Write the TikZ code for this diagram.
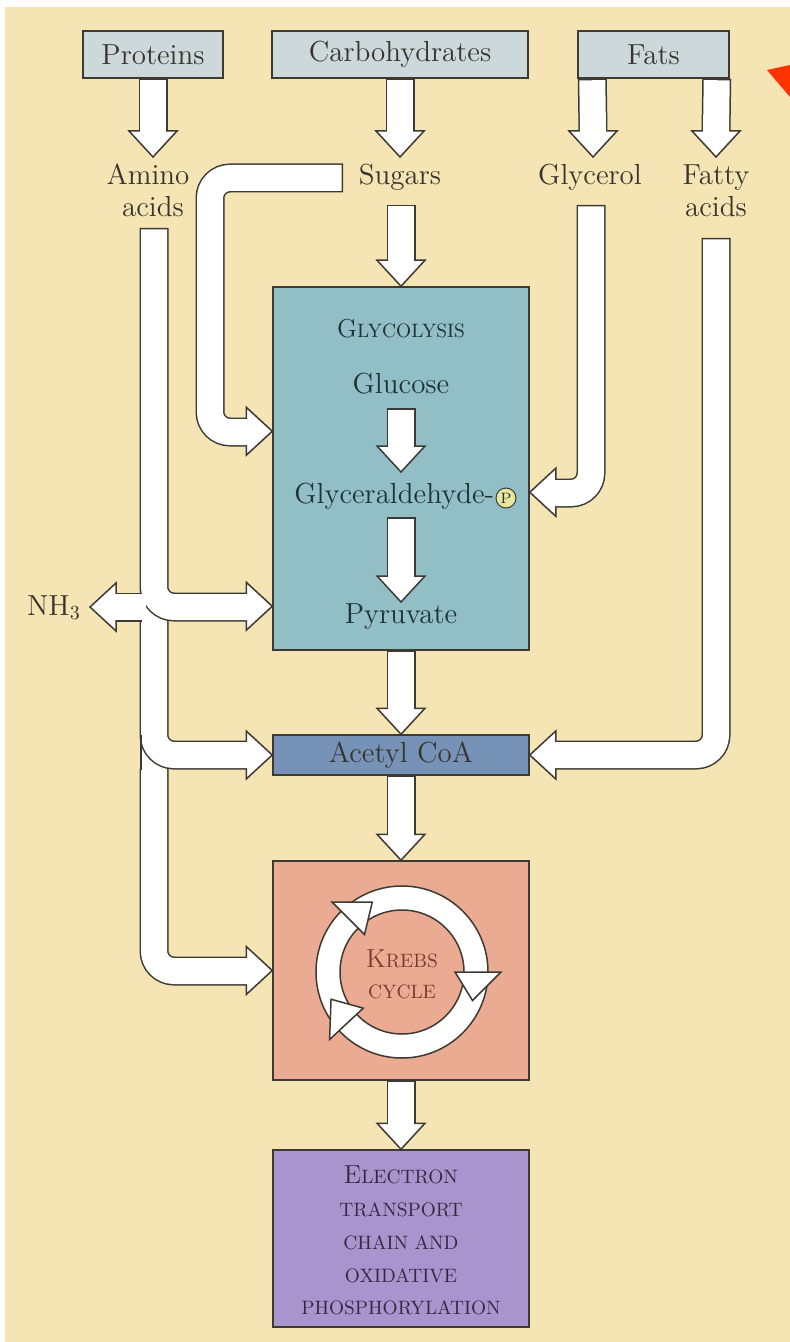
\documentclass[tikz,border=0pt]{standalone}
\usetikzlibrary{calc}
\definecolor{bg}{RGB}{245,228,180}
\definecolor{linec}{RGB}{60,58,50}
\definecolor{srcfill}{RGB}{205,216,218}
\definecolor{glyfill}{RGB}{146,190,198}
\definecolor{acefill}{RGB}{118,146,182}
\definecolor{krefill}{RGB}{235,170,146}
\definecolor{etcfill}{RGB}{170,148,206}
\definecolor{pfill}{RGB}{234,230,160}
\definecolor{txt}{RGB}{55,52,45}
\definecolor{glytxt}{RGB}{30,50,55}
\definecolor{kretxt}{RGB}{120,60,50}
\definecolor{etctxt}{RGB}{55,40,65}
\definecolor{redmark}{RGB}{255,50,0}
\tikzset{
  box/.style={draw=linec, line width=0.75pt, inner sep=0pt},
  lab/.style={font=\fontsize{14.5}{16.5}\selectfont, text=txt, align=center, inner sep=0pt},
  bl/.style={anchor=base, inner sep=0pt},
  sback/.style={draw=linec, line width=14.5pt, rounded corners=10pt},
  sfront/.style={draw=white, line width=13pt, rounded corners=10pt},
  headS/.style={fill=white, draw=linec, line width=0.75pt, line join=miter},
  edge/.style={draw=linec, line width=0.75pt},
  ahead/.pic={\filldraw[headS] (-26,-24) -- (0,0) -- (-26,24) -- cycle;},
}
\newcommand{\fatarrow}[3]{%
  \draw[sback] #1;
  \pic[rotate=#3] at #2 {ahead};
  \draw[sfront, shorten <=0.75pt, shorten >=-1pt] #1;
}
\newcommand{\fatarrowopen}[3]{%
  \draw[sback] #1;
  \pic[rotate=#3] at #2 {ahead};
  \draw[sfront, shorten >=-1pt] #1;
}
\newcommand{\bigsc}[2]{{\fontsize{13}{13}\selectfont #1}{\fontsize{9.7}{9.7}\selectfont #2}}
\newcommand{\smsc}[1]{{\fontsize{9.7}{9.7}\selectfont #1}}
\begin{document}
\begin{tikzpicture}[x=0.5pt,y=-0.5pt]
\useasboundingbox (0,0) rectangle (790,1342);
\fill[white] (0,0) rectangle (790,1342);
\fill[bg] (5,7) rectangle (790,1342);
\fill[redmark] (767,70) -- (790,65) -- (790,97) -- cycle;

% boxes
\node[box, lab, fill=srcfill, minimum width=70pt, minimum height=23.5pt] (prot) at (153,54.5) {Proteins};
\node[box, lab, fill=srcfill, minimum width=128pt, minimum height=23.5pt] (carb) at (400,54.5) {Carbohydrates};
\node[box, lab, fill=srcfill, minimum width=75.5pt, minimum height=23.5pt] (fats) at (653.5,54.5) {Fats};
\node[box, fill=glyfill, minimum width=128pt, minimum height=181.5pt] (glyc) at (401,468.5) {};
\node[box, lab, fill=acefill, minimum width=128pt, minimum height=20pt] (acet) at (401,755) {Acetyl CoA};
\node[box, fill=krefill, minimum width=128pt, minimum height=109.5pt] (krebs) at (401,970.5) {};
\node[box, fill=etcfill, minimum width=128pt, minimum height=88.5pt] (etc) at (401,1238.5) {};

% labels outside
\node[lab, bl] (amino1) at (148,185) {Amino};
\node[lab, bl] (amino2) at (153,217) {acids};
\node[lab, bl] (sugars) at (400,185) {Sugars};
\node[lab, bl] (glycerol) at (590,185) {Glycerol};
\node[lab, bl] (fatty1) at (716,185) {Fatty};
\node[lab, bl] (fatty2) at (716,217) {acids};
\node[lab, bl] (nh3) at (54,615) {NH$_3$};

% arrows from sources
\fatarrow{(prot.south) -- (153,131)}{(153,157)}{-90}
\fatarrow{(carb.south) -- (400,131)}{(400,157)}{-90}
\fatarrow{($(fats.south west)+(15,0)$) -- (593,131)}{(593,157)}{-90}
\fatarrow{($(fats.south east)+(-13,0)$) -- (716,131)}{(716,157)}{-90}

% sugars
\fatarrow{(401,205) -- (401,261)}{(glyc.north)}{-90}
\fatarrow{(343,178) -- (210,178) -- (210,432) -- (247,432)}{($(glyc.north west)+(0,145)$)}{0}
% glycerol
\fatarrow{(591,205) -- (591,493) -- (555,493)}{($(glyc.north east)+(0,206)$)}{180}
% fatty acids
\fatarrow{(716,238) -- (716,755) -- (555,755)}{(acet.east)}{180}
% amino acids: trunk with branches
\fill[white] (141.5,594) rectangle (166.5,769);
\fatarrow{(154,228) -- (154,607) -- (247,607)}{($(glyc.north west)+(0,320)$)}{0}
\draw[sback] (141.5,607) -- (116,607);
\pic[rotate=180] at (90,607) {ahead};
\draw[sfront, shorten >=-1pt] (146,607) -- (116,607);
\fatarrowopen{(154,621) -- (154,755) -- (247,755)}{(acet.west)}{0}
\fatarrowopen{(154,769) -- (154,971) -- (247,971)}{(krebs.west)}{0}
\draw[edge] (141,619.5) -- (141,622);
\draw[edge] (141,735) -- (141,770);

% main column
\fatarrow{(glyc.south) -- (401,709)}{(acet.north)}{-90}
\fatarrow{(acet.south) -- (401,835)}{(krebs.north)}{-90}
\fatarrow{(krebs.south) -- (401,1124)}{(etc.north)}{-90}

% glycolysis interior
\node[bl, text=glytxt] (gtitle) at (401,337) {\bigsc{G}{LYCOLYSIS}};
\node[lab, bl, text=glytxt] (glucose) at (401,393) {Glucose};
\fatarrow{(401,408) -- (401,446)}{(401,472)}{-90}
\node[circle, draw=linec, fill=pfill, line width=0.5pt, inner sep=0pt, minimum size=10pt, font=\fontsize{7.5}{7.5}\selectfont, text=glytxt] (pcirc) at (506,498) {P};
\node[lab, text=glytxt, anchor=base east] (gald) at ($(pcirc.west)+(-1,5)$) {Glyceraldehyde-};
\fatarrow{(401,517) -- (401,576)}{(401,602)}{-90}
\node[lab, bl, text=glytxt] (pyr) at (401,623) {Pyruvate};

% Krebs cycle ring
\begin{scope}[shift={(402,972)}]
  \filldraw[fill=white, draw=linec, line width=0.75pt, even odd rule] (0,0) circle[radius=86] (0,0) circle[radius=62];
  \filldraw[headS] (-135:53) -- (-135:99) -- (-113:76) -- cycle;
  \filldraw[headS] (0:53) -- (0:99) -- (22:76) -- cycle;
  \filldraw[headS] (-223:53) -- (-223:99) -- (-201:76) -- cycle;
\end{scope}
\node[bl, text=kretxt] (kr1) at (402,967) {\bigsc{K}{REBS}};
\node[bl, text=kretxt] (kr2) at (402,998) {\smsc{CYCLE}};

% electron transport text
\node[bl, text=etctxt] (e1) at (401,1183) {\bigsc{E}{LECTRON}};
\node[bl, text=etctxt] (e2) at (401,1216) {\smsc{TRANSPORT}};
\node[bl, text=etctxt] (e3) at (401,1249) {\smsc{CHAIN AND}};
\node[bl, text=etctxt] (e4) at (401,1282) {\smsc{OXIDATIVE}};
\node[bl, text=etctxt] (e5) at (401,1314) {\smsc{PHOSPHORYLATION}};
\end{tikzpicture}
\end{document}
